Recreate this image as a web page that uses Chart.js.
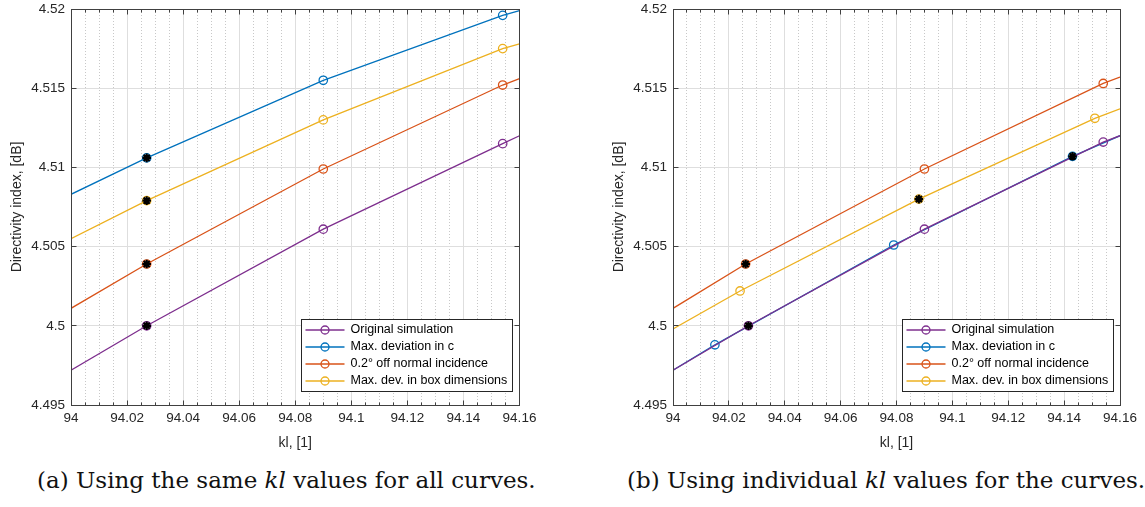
<!DOCTYPE html>
<html>
<head>
<meta charset="utf-8">
<script src="https://cdn.jsdelivr.net/npm/chart.js@4.4.0/dist/chart.umd.min.js"></script>
<style>
  body { margin: 0; background: #fff; width: 1145px; height: 507px; overflow: hidden; position: relative; }
  .box { position: absolute; top: 0; height: 460px; }
  #wrapA { left: 0; width: 560px; }
  #wrapB { left: 600px; width: 545px; }
  .cap { position: absolute; top: 467px; font-family: "DejaVu Serif", serif; font-size: 23px; color: #111; white-space: nowrap; }
</style>
</head>
<body>
<div class="box" id="wrapA"><canvas id="chartA"></canvas></div>
<div class="box" id="wrapB"><canvas id="chartB"></canvas></div>
<div class="cap" style="left:37px">(a) Using the same <i>kl</i> values for all curves.</div>
<div class="cap" style="left:627px">(b) Using individual <i>kl</i> values for the curves.</div>

<script>
const seriesNames = ['Original simulation', 'Max. deviation in c', '0.2\u00b0 off normal incidence', 'Max. dev. in box dimensions'];
const seriesColors = ['#7E2F8E', '#0072BD', '#D95319', '#EDB120'];

// (a) same kl values for every curve; first/last entries are where the lines meet the axis limits
const klSameA = [94, 94.027, 94.090, 94.154, 94.16];
const diOriginalA = [4.4972, 4.5000, 4.5061, 4.5115, 4.5120];
const diMaxCA = [4.5083, 4.5106, 4.5155, 4.5196, 4.5199];
const diAngleA = [4.5011, 4.5039, 4.5099, 4.5152, 4.5156];
const diBoxA = [4.5055, 4.5079, 4.5130, 4.5175, 4.5178];
const starKlA = [94.027, 94.027, 94.027, 94.027];
const starDiA = [4.5000, 4.5106, 4.5039, 4.5079];

// (b) individual kl values
const klOriginalB = [94, 94.027, 94.090, 94.154, 94.16];
const diOriginalB = [4.4972, 4.5000, 4.5061, 4.5116, 4.5120];
const klMaxCB = [94, 94.015, 94.079, 94.143, 94.16];
const diMaxCB = [4.4972, 4.4988, 4.5051, 4.5107, 4.5120];
const klAngleB = [94, 94.026, 94.090, 94.154, 94.16];
const diAngleB = [4.5011, 4.5039, 4.5099, 4.5153, 4.5157];
const klBoxB = [94, 94.024, 94.088, 94.151, 94.16];
const diBoxB = [4.4998, 4.5022, 4.5080, 4.5131, 4.5137];
const starKlB = [94.027, 94.143, 94.026, 94.088];
const starDiB = [4.5000, 4.5107, 4.5039, 4.5080];

const xMin = 94, xMax = 94.16, xMinorStep = 0.005;
const yTicks = [4.495, 4.5, 4.505, 4.51, 4.515, 4.52];

const tickFont = { family: '"Liberation Sans", Arial, sans-serif', size: 13.5 };
const labelFont = { family: '"Liberation Sans", Arial, sans-serif', size: 14 };
const isMajorX = v => Math.abs(v * 50 - Math.round(v * 50)) < 1e-6;

const axesBox = {
  id: 'axesBox',
  afterDraw(chart) {
    const { ctx, chartArea: a, scales: { x, y } } = chart;
    const L = Math.floor(a.left) + 0.5, R = Math.floor(a.right) + 0.5;
    const T = Math.floor(a.top) + 0.5, B = Math.floor(a.bottom) + 0.5;
    ctx.save();
    ctx.strokeStyle = '#404040';
    ctx.lineWidth = 1;
    ctx.beginPath();
    x.ticks.forEach(t => {
      const px = Math.floor(x.getPixelForValue(t.value)) + 0.5;
      const len = isMajorX(t.value) ? 5 : 3;
      ctx.moveTo(px, B); ctx.lineTo(px, B - len);
      ctx.moveTo(px, T); ctx.lineTo(px, T + len);
    });
    y.ticks.forEach(t => {
      const py = Math.floor(y.getPixelForValue(t.value)) + 0.5;
      ctx.moveTo(L, py); ctx.lineTo(L + 5, py);
      ctx.moveTo(R, py); ctx.lineTo(R - 5, py);
    });
    ctx.stroke();
    ctx.strokeRect(L, T, R - L, B - T);
    ctx.restore();
  }
};

const insideLegend = {
  id: 'insideLegend',
  afterDraw(chart) {
    const { ctx, chartArea: a } = chart;
    const items = chart.data.datasets.filter(d => d.label);
    ctx.save();
    ctx.font = '12.5px "Liberation Sans", Arial, sans-serif';
    const textW = Math.max(...items.map(d => ctx.measureText(d.label).width));
    const rowH = 17;
    const w = Math.round(49 + textW + 5);
    const h = items.length * rowH + 4;
    const x0 = Math.floor(a.right - 7 - w) + 0.5;
    const y0 = Math.floor(a.bottom - 14 - h) + 0.5;
    ctx.fillStyle = '#fff';
    ctx.fillRect(x0, y0, w, h);
    ctx.strokeStyle = '#262626';
    ctx.lineWidth = 1;
    ctx.strokeRect(x0, y0, w, h);
    items.forEach((d, i) => {
      const cy = y0 + 2 + rowH / 2 + i * rowH;
      ctx.strokeStyle = d.borderColor;
      ctx.lineWidth = 1.3;
      ctx.beginPath(); ctx.moveTo(x0 + 4, cy); ctx.lineTo(x0 + 43, cy); ctx.stroke();
      ctx.beginPath(); ctx.arc(x0 + 23.5, cy, 4, 0, 2 * Math.PI); ctx.stroke();
      ctx.fillStyle = '#000';
      ctx.textBaseline = 'middle';
      ctx.fillText(d.label, x0 + 49, cy);
    });
    ctx.restore();
  }
};

function makeChart(id, series, starKl, starDi, yWidth, padRight, yTitlePad) {
  const datasets = series.map((s, i) => ({
    label: seriesNames[i],
    data: s[0].map((x, j) => ({ x, y: s[1][j] })),
    borderColor: seriesColors[i],
    backgroundColor: 'rgba(0,0,0,0)',
    borderWidth: 1.3,
    pointStyle: 'circle',
    pointRadius: ctx => (ctx.dataIndex === 0 || ctx.dataIndex === s[0].length - 1) ? 0 : 4.2,
    pointBorderWidth: 1.3,
    pointHoverRadius: 0,
    showLine: true,
    tension: 0,
    order: i + 1
  }));
  datasets.push({
    label: '',
    data: starKl.map((x, j) => ({ x, y: starDi[j] })),
    showLine: false,
    pointStyle: 'star',
    pointRadius: 4.3,
    pointBorderWidth: 2.2,
    borderColor: '#000',
    backgroundColor: '#000',
    order: 0
  });

  return new Chart(document.getElementById(id), {
    type: 'scatter',
    data: { datasets },
    plugins: [axesBox, insideLegend],
    options: {
      responsive: true,
      maintainAspectRatio: false,
      animation: false,
      events: [],
      layout: { padding: { top: 9, right: padRight, bottom: 0, left: 0 } },
      plugins: { legend: { display: false }, tooltip: { enabled: false } },
      scales: {
        x: {
          type: 'linear',
          min: xMin,
          max: xMax,
          afterFit: s => { s.paddingLeft = 0; s.paddingRight = 0; s.height = 55; },
          ticks: {
            stepSize: xMinorStep,
            autoSkip: false,
            maxRotation: 0,
            padding: 5,
            color: '#262626',
            font: tickFont,
            callback: v => isMajorX(v) ? parseFloat(v.toFixed(2)).toString() : ''
          },
          grid: {
            drawTicks: false,
            color: c => (c.tick && isMajorX(c.tick.value)) ? '#dedede' : '#c8c8c8',
            lineWidth: 1
          },
          border: {
            display: false,
            dash: c => (c.tick && isMajorX(c.tick.value)) ? [] : [1, 2]
          },
          title: { display: true, text: 'kl, [1]', color: '#262626', font: labelFont, padding: { top: 0, bottom: 8.6 } }
        },
        y: {
          type: 'linear',
          min: yTicks[0],
          max: yTicks[yTicks.length - 1],
          afterBuildTicks: s => { s.ticks = yTicks.map(v => ({ value: v })); },
          afterFit: s => { s.width = yWidth; s.paddingTop = 0; s.paddingBottom = 0; },
          ticks: {
            padding: 6,
            color: '#262626',
            font: tickFont,
            callback: v => parseFloat(v.toFixed(3)).toString()
          },
          grid: { drawTicks: false, color: '#dedede', lineWidth: 1 },
          border: { display: false },
          title: { display: true, text: 'Directivity index, [dB]', color: '#262626', font: labelFont, padding: { top: yTitlePad, bottom: 0 } }
        }
      }
    }
  });
}

makeChart('chartA',
  [[klSameA, diOriginalA], [klSameA, diMaxCA], [klSameA, diAngleA], [klSameA, diBoxA]],
  starKlA, starDiA, 71, 40.5, 8.6);

makeChart('chartB',
  [[klOriginalB, diOriginalB], [klMaxCB, diMaxCB], [klAngleB, diAngleB], [klBoxB, diBoxB]],
  starKlB, starDiB, 73, 25, 10.6);
</script>
</body>
</html>
